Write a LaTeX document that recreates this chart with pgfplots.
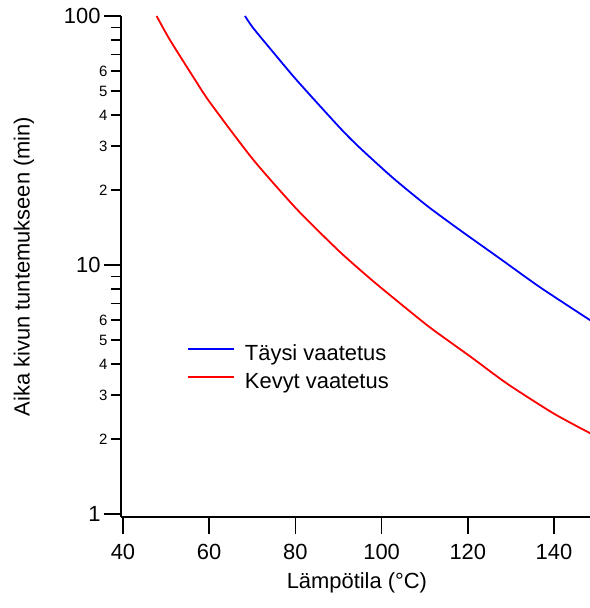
\documentclass[border=0pt]{standalone}
\usepackage{fontspec}
\setmainfont{Liberation Sans}
\usepackage{pgfplots}
\pgfplotsset{compat=1.18}
\begin{document}
\begin{tikzpicture}
\begin{axis}[
  name=ax,
  scale only axis,
  width=469bp, height=501bp,
  ymode=log,
  xmin=39.54, xmax=148.35,
  ymin=0.9727, ymax=100,
  axis lines=left,
  axis line style={-, line width=1.6bp, black},
  xtick={40,60,...,140},
  ytick={1,10,100},
  yticklabels={1,10,100},
  minor ytick={7,8,9,70,80,90},
  extra y ticks={2,3,4,5,6,20,30,40,50,60},
  extra y tick labels={2,3,4,5,6,2,3,4,5,6},
  extra y tick style={major tick length=10bp, tick label style={font=\fontsize{15}{18}\selectfont}},
  tick align=outside,
  major tick length=17bp,
  minor tick length=10bp,
  every tick/.style={line width=1.6bp, black},
  ticklabel style={font=\fontsize{22}{26}\selectfont},
  xticklabel style={yshift=-7bp},
  /pgf/number format/assume math mode=true,
  xlabel={Lämpötila (°C)},
  ylabel={Aika kivun tuntemukseen (min)},
  every axis x label/.style={at={(axis description cs:0.503,-0.1437)}, anchor=base, font=\fontsize{22}{26}\selectfont},
  every axis y label/.style={at={(axis description cs:-0.207,0.5)}, anchor=center, rotate=90, font=\fontsize{22}{26}\selectfont},
  legend style={draw=none, fill=none, inner sep=0pt, at={(axis description cs:0.1407,0.2954)}, anchor=west,
    font=\fontsize{22}{26}\selectfont, row sep=7bp, column sep=10bp,
    nodes={inner sep=0pt, text height=16bp, text depth=5bp}},
  legend cell align=left,
  legend image code/.code={\draw[#1, line width=1.8bp] (0bp,6bp) -- (46bp,6bp);},
]
\addplot[blue, line width=1.8bp, smooth, tension=0.4] coordinates {
(68.3,100) (70.2,89.5) (75,71) (80.4,55.0) (90.3,35.6) (95,29.5) (102.6,22.4)
(110.5,17.3) (118.2,13.8) (127.5,10.6) (136.8,8.13) (148.4,6.0)};
\addlegendentry{Täysi vaatetus}
\addplot[red, line width=1.8bp, smooth, tension=0.4] coordinates {
(47.8,100) (50.9,80.1) (56.7,55.5) (60.2,44.9) (70.2,26.5) (80.4,16.7) (90.3,11.3)
(97.3,8.83) (102.6,7.41) (111.2,5.62) (120.5,4.30) (129.1,3.34) (139.8,2.54) (148.4,2.11)};
\addlegendentry{Kevyt vaatetus}
\end{axis}
\pgfresetboundingbox
\useasboundingbox ([shift={(-121bp,-91bp)}]ax.south west) rectangle ([shift={(0bp,16bp)}]ax.north east);
\end{tikzpicture}
\end{document}
